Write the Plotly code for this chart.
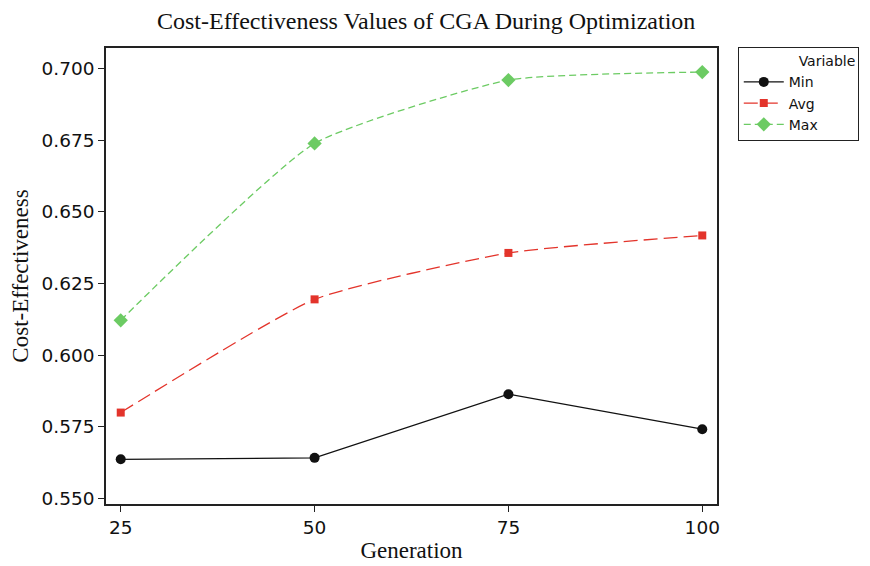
import plotly.graph_objects as go

generations = [25, 50, 75, 100]
min_vals = [0.5637, 0.5642, 0.5864, 0.5742]
avg_vals = [0.5800, 0.6195, 0.6357, 0.6418]
max_vals = [0.6122, 0.6739, 0.6960, 0.6988]
y_ticks = [0.550, 0.575, 0.600, 0.625, 0.650, 0.675, 0.700]
x_ticks = [25, 50, 75, 100]

fig = go.Figure()
fig.add_trace(go.Scatter(x=generations, y=min_vals, name="Min", mode="lines+markers",
                         line=dict(color="#111111", width=1.3),
                         marker=dict(symbol="circle", size=10, color="#111111")))
fig.add_trace(go.Scatter(x=generations, y=avg_vals, name="Avg", mode="lines+markers",
                         line=dict(color="#E3342B", width=1.3, dash="14px,6px", shape="spline", smoothing=0.5),
                         marker=dict(symbol="square", size=8, color="#E3342B")))
fig.add_trace(go.Scatter(x=generations, y=max_vals, name="Max", mode="lines+markers",
                         line=dict(color="#6CCB63", width=1.3, dash="7px,4px", shape="spline", smoothing=0.5),
                         marker=dict(symbol="diamond", size=11, color="#6CCB63")))

axis_common = dict(showline=True, linecolor="#222222", linewidth=1.5, mirror=True,
                   ticks="outside", ticklen=6, tickcolor="#222222", tickwidth=1.3,
                   showgrid=False, zeroline=False, automargin=False,
                   tickfont=dict(family="DejaVu Sans", size=18.5, color="#111111"))

# the page body adds an 8px offset, so the figure is sized to fit the window
fig.update_layout(
    width=862, height=558,
    margin=dict(l=98, r=153, t=40, b=62, autoexpand=False),
    paper_bgcolor="white", plot_bgcolor="white",
    title=dict(text="Cost-Effectiveness Values of CGA During Optimization",
               font=dict(family="Liberation Serif", size=24, color="#111111"),
               x=0.524, xref="paper", xanchor="center", y=0.978, yanchor="middle"),
    xaxis=dict(range=[23.1, 101.9], tickvals=x_ticks,
               title=dict(text="Generation", font=dict(family="Liberation Serif", size=23, color="#111111"),
                          standoff=5),
               **axis_common),
    yaxis=dict(range=[0.5481, 0.7072], tickvals=y_ticks, tickformat=".3f",
               title=dict(text="Cost-Effectiveness", font=dict(family="Liberation Serif", size=23, color="#111111"),
                          standoff=10),
               **axis_common),
    legend=dict(x=1.034, y=1.002, xanchor="left", yanchor="top",
                bordercolor="#222222", borderwidth=1, bgcolor="white",
                font=dict(family="DejaVu Sans", size=14, color="#111111"),
                title=dict(text="\u00a0" * 13 + "Variable",
                           font=dict(family="DejaVu Sans", size=14, color="#111111")),
                itemwidth=40, tracegroupgap=0),
    showlegend=True,
)

fig.write_html("out.html")
